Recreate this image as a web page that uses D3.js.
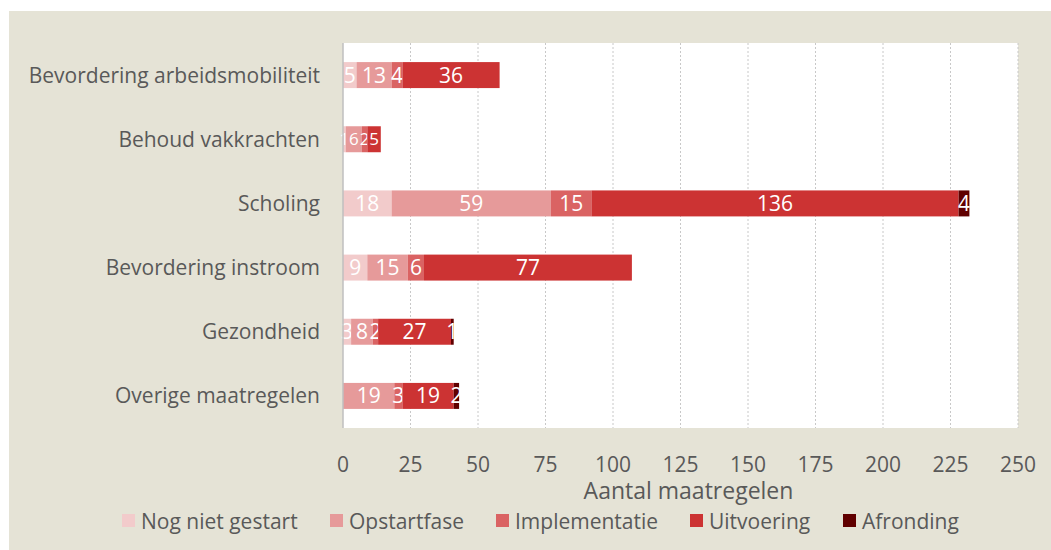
<!DOCTYPE html>
<html>
<head>
<meta charset="utf-8">
<script src="https://cdn.jsdelivr.net/npm/d3@7"></script>
<style>
body { margin:0; background:#fff; }
svg { display:block; font-family:"Open Sans", sans-serif; }
</style>
</head>
<body>
<div id="chart-container"></div>
<script>
const CATEGORIES = ["Bevordering arbeidsmobiliteit","Behoud vakkrachten","Scholing","Bevordering instroom","Gezondheid","Overige maatregelen"];
const SERIES = ["Nog niet gestart","Opstartfase","Implementatie","Uitvoering","Afronding"];
const COLORS = ["#f2cbcb","#e69a9a","#da6363","#cc3333","#600000"];

const NOG_NIET = [5,1,18,9,3,0];
const OPSTART = [13,6,59,15,8,19];
const IMPLEMENTATIE = [4,2,15,6,2,3];
const UITVOERING = [36,5,136,77,27,19];
const AFRONDING = [0,0,4,0,1,2];

const X_TICKS = [0,25,50,75,100,125,150,175,200,225,250];
const X_LABEL = "Aantal maatregelen";

const svgWidth = 1051, svgHeight = 550;
const margin = {top:43, right:33, bottom:122, left:343};
const width = svgWidth - margin.left - margin.right;
const height = svgHeight - margin.top - margin.bottom;

const svg = d3.select("#chart-container").append("svg")
.attr("width",svgWidth).attr("height",svgHeight);

// beige panel
svg.append("rect").attr("x",9).attr("y",11)
.attr("width",svgWidth-9).attr("height",svgHeight-11)
.attr("fill","#e5e3d6");

const chart = svg.append("g").attr("transform",`translate(${margin.left},${margin.top})`);

chart.append("rect").attr("width",width).attr("height",height).attr("fill","#fff");

const seriesValues = [NOG_NIET,OPSTART,IMPLEMENTATIE,UITVOERING,AFRONDING];
const data = CATEGORIES.map((c,i)=>{
const row = {label:c};
SERIES.forEach((s,j)=>row[s]=seriesValues[j][i]);
return row;
});
const stacked = d3.stack().keys(SERIES)(data);

const scaleX = d3.scaleLinear().domain([0,250]).range([0,width]);
const scaleY = d3.scaleBand().domain(CATEGORIES).range([0,height]).paddingInner(0.595).paddingOuter(0.2975);

// grid
chart.selectAll(".grid").data(X_TICKS.slice(1)).enter().append("line")
.attr("x1",d=>scaleX(d)).attr("x2",d=>scaleX(d))
.attr("y1",0).attr("y2",height)
.attr("stroke","#c8c8c8").attr("stroke-width",1).attr("stroke-dasharray","2,2");

// bars
const layers = chart.selectAll(".layer").data(stacked).enter().append("g")
.attr("fill",(d,i)=>COLORS[i]);

layers.selectAll("rect").data(d=>d).enter().append("rect")
.attr("x",d=>scaleX(d[0]))
.attr("y",d=>scaleY(d.data.label))
.attr("width",d=>scaleX(d[1])-scaleX(d[0]))
.attr("height",scaleY.bandwidth());

// value labels (tiny segments get a smaller font, as the labels crowd there)
layers.selectAll("text").data(d=>d.filter(p=>p[1]-p[0]>0)).enter().append("text")
.attr("x",d=>(scaleX(d[0])+scaleX(d[1]))/2)
.attr("y",d=>scaleY(d.data.label)+scaleY.bandwidth()/2)
.attr("dy","0.36em")
.attr("text-anchor","middle")
.attr("fill","#fff")
.attr("font-size",d=>d.data.label==="Behoud vakkrachten" ? 17 : 21)
.text(d=>d[1]-d[0]);

// left axis line
chart.append("line").attr("x1",0).attr("x2",0).attr("y1",0).attr("y2",height)
.attr("stroke","#bfbfbf").attr("stroke-width",1.5);

// category labels
chart.selectAll(".cat").data(CATEGORIES).enter().append("text")
.attr("x",-23)
.attr("y",d=>scaleY(d)+scaleY.bandwidth()/2)
.attr("dy","0.36em")
.attr("text-anchor","end")
.attr("fill","#595959")
.attr("font-size",21)
.text(d=>d);

// x tick labels
chart.selectAll(".tick-label").data(X_TICKS).enter().append("text")
.attr("x",d=>scaleX(d))
.attr("y",height+36)
.attr("dy","0.36em")
.attr("text-anchor","middle")
.attr("fill","#595959")
.attr("font-size",21)
.text(d=>d);

chart.append("text")
.attr("x",width/2+8)
.attr("y",height+63)
.attr("dy","0.36em")
.attr("text-anchor","middle")
.attr("fill","#595959")
.attr("font-size",23)
.text(X_LABEL);

// legend
const LEGEND_X = [122,330,496,690,843];
const legend = svg.selectAll(".legend").data(SERIES).enter().append("g")
.attr("transform",(d,i)=>`translate(${LEGEND_X[i]},521)`);
legend.append("rect").attr("x",0).attr("y",-7).attr("width",13).attr("height",13)
.attr("fill",(d,i)=>COLORS[i]);
legend.append("text").attr("x",19).attr("y",0).attr("dy","0.36em")
.attr("fill","#595959").attr("font-size",21).text(d=>d);
</script>
</body>
</html>
